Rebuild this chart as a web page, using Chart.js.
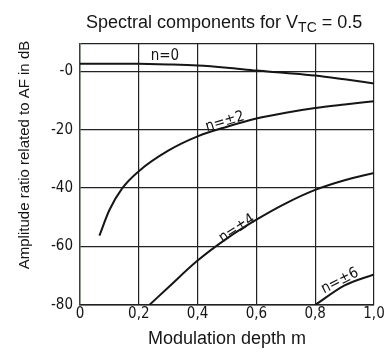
<!DOCTYPE html>
<html>
<head>
<meta charset="utf-8">
<script src="https://cdn.jsdelivr.net/npm/chart.js@4"></script>
<style>
  html, body { margin: 0; padding: 0; background: #fff; }
  #wrap { width: 390px; height: 352px; }
</style>
</head>
<body>
<div id="wrap"><canvas id="c" width="390" height="352"></canvas></div>
<script>
// ---- data ----
const titleMain = "Spectral components for V";
const titleSub = "TC";
const titleTail = " = 0.5";
const xTitle = "Modulation depth m";
const yTitle = "Amplitude ratio related to AF in dB";

const xTickValues = [0, 0.2, 0.4, 0.6, 0.8, 1.0];
const xTickLabels = ["0", "0,2", "0,4", "0,6", "0,8", "1,0"];
const yTickValues = [-80, -60, -40, -20, 0];
const yTickLabels = ["-80", "-60", "-40", "-20", "-0"];
const yMin = -80, yMax = 9.3;

const seriesNames = ["n=0", "n=±2", "n=±4", "n=±6"];

const n0M  = [0, 0.1, 0.2, 0.3, 0.4, 0.5, 0.6, 0.7, 0.8, 0.9, 1.0];
const n0Db = [2.5, 2.55, 2.5, 2.3, 1.95, 1.2, 0.2, -0.6, -1.5, -2.8, -4.2];

const n2M  = [0.066, 0.1, 0.144, 0.2, 0.3, 0.4, 0.5, 0.6, 0.7, 0.8, 0.9, 1.0];
const n2Db = [-56.3, -47.5, -40, -34.2, -27.2, -22.3, -19, -16.2, -14.2, -12.6, -11.4, -10.3];

const n4M  = [0.236, 0.3, 0.4, 0.5, 0.6, 0.7, 0.8, 0.9, 1.0];
const n4Db = [-80, -74.0, -64.8, -57.2, -50.8, -45.2, -40.6, -37.3, -34.8];

const n6M  = [0.8, 0.9, 1.0];
const n6Db = [-80, -73.3, -69.5];

// curve label anchors (data coords) and rotation (deg)
const labelM   = [0.289, 0.493, 0.534, 0.884];
const labelDb  = [5.0, -17.3, -53.9, -71.8];
const labelRot = [0, -17, -33, -27];

const seriesM = [n0M, n2M, n4M, n6M];
const seriesDb = [n0Db, n2Db, n4Db, n6Db];

const ink = "#151515";

const textPlugin = {
  id: "texts",
  afterDraw(chart) {
    const ctx = chart.ctx;
    const xs = chart.scales.x, ys = chart.scales.y;
    ctx.save();
    ctx.fillStyle = ink;
    // main title with subscript
    ctx.textBaseline = "alphabetic";
    ctx.textAlign = "left";
    ctx.font = "18px 'Liberation Sans', Arial, sans-serif";
    let x = 86;
    ctx.fillText(titleMain, x, 28);
    x += ctx.measureText(titleMain).width;
    ctx.font = "14px 'Liberation Sans', Arial, sans-serif";
    ctx.fillText(titleSub, x, 32);
    x += ctx.measureText(titleSub).width;
    ctx.font = "18px 'Liberation Sans', Arial, sans-serif";
    ctx.fillText(titleTail, x, 28);

    // x axis title
    ctx.textAlign = "center";
    ctx.font = "18px 'Liberation Sans', Arial, sans-serif";
    ctx.fillText(xTitle, (xs.left + xs.right) / 2, 344);

    // y axis title
    ctx.save();
    ctx.translate(29, 155);
    ctx.rotate(-Math.PI / 2);
    ctx.font = "15px 'Liberation Sans', Arial, sans-serif";
    ctx.fillText(yTitle, 0, 0);
    ctx.restore();

    // curve labels
    ctx.font = "15px 'DejaVu Sans Condensed', 'Liberation Sans', sans-serif";
    ctx.textBaseline = "middle";
    for (let i = 0; i < seriesNames.length; i++) {
      const px = xs.getPixelForValue(labelM[i]);
      const py = ys.getPixelForValue(labelDb[i]);
      ctx.save();
      ctx.translate(px, py);
      ctx.rotate(labelRot[i] * Math.PI / 180);
      ctx.fillText(seriesNames[i], 0, 0);
      ctx.restore();
    }
    ctx.restore();
  }
};

const datasets = seriesNames.map((name, i) => ({
  label: name,
  data: seriesM[i].map((m, j) => ({ x: m, y: seriesDb[i][j] })),
  borderColor: ink,
  borderWidth: 2,
  pointRadius: 0,
  fill: false,
  cubicInterpolationMode: "monotone"
}));

new Chart(document.getElementById("c"), {
  type: "line",
  data: { datasets },
  plugins: [textPlugin],
  options: {
    responsive: false,
    animation: false,
    events: [],
    layout: { padding: { top: 44, right: 16, left: 0, bottom: 0 } },
    plugins: { legend: { display: false }, tooltip: { enabled: false }, title: { display: false } },
    scales: {
      x: {
        type: "linear",
        min: 0, max: 1,
        afterBuildTicks: s => { s.ticks = xTickValues.map(v => ({ value: v })); },
        afterFit: s => { s.height = 47; },
        ticks: {
          callback: (v) => { const k = xTickValues.indexOf(v); return k >= 0 ? xTickLabels[k] : ""; },
          font: { family: "'DejaVu Sans Condensed', 'Liberation Sans', sans-serif", size: 15 },
          color: ink,
          padding: 0,
          maxRotation: 0,
          autoSkip: false
        },
        grid: { color: "#222", lineWidth: 1.2, drawTicks: false },
        border: { display: true, color: "#222", width: 1.4 }
      },
      y: {
        type: "linear",
        min: yMin, max: yMax,
        afterBuildTicks: s => { s.ticks = yTickValues.concat([yMax]).map(v => ({ value: v })); },
        afterFit: s => { s.width = 80; },
        ticks: {
          callback: (v) => { const k = yTickValues.indexOf(v); return k >= 0 ? yTickLabels[k] : ""; },
          font: { family: "'DejaVu Sans Condensed', 'Liberation Sans', sans-serif", size: 15 },
          color: ink,
          padding: 7,
          autoSkip: false
        },
        grid: { color: "#222", lineWidth: 1.2, drawTicks: false },
        border: { display: true, color: "#2f4a2f", width: 1.4 }
      }
    }
  }
});
</script>
</body>
</html>
